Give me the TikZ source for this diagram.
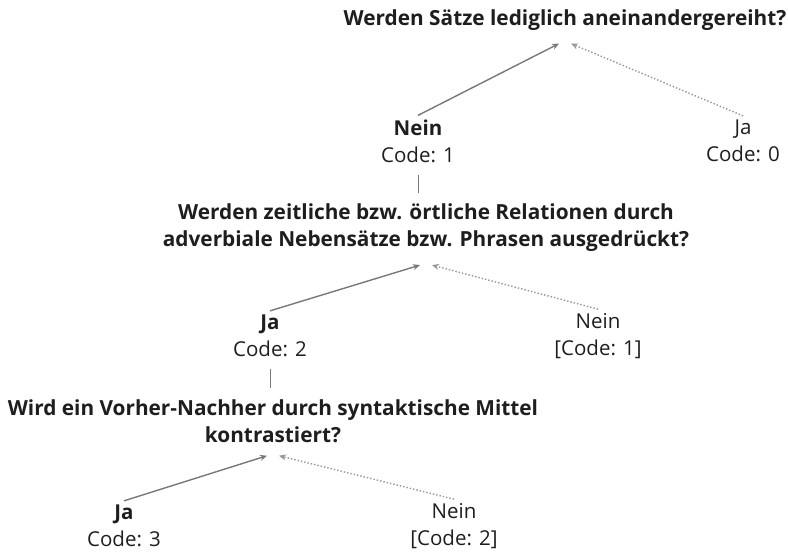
\documentclass[tikz,border=0pt]{standalone}
\usepackage{fontspec}
\setmainfont{Open Sans}
\usepackage{tikz}
\usetikzlibrary{positioning,arrows.meta}
\tikzstyle{chart} = [x = 1pt, y = -1pt]
\definecolor{lineColor}{RGB}{120,120,120}
\definecolor{dotColor}{RGB}{150,150,150}
\definecolor{textColor}{RGB}{30,30,30}
\tikzstyle{question} = [font=\fontsize{20.8}{27}\selectfont\bfseries, align=center, text=textColor, inner sep=2pt]
\tikzstyle{answer} = [font=\fontsize{20.5}{27}\selectfont, align=center, text=textColor, inner sep=4pt]
\tikzstyle{takenLine} = [color=lineColor, line width=1.4pt, -{Stealth[length=7pt,width=6pt]}]
\tikzstyle{otherLine} = [color=dotColor, line width=1.4pt, dotted, -{Stealth[length=7pt,width=6pt]}]
\tikzstyle{stemLine} = [color=lineColor, line width=0.9pt, shorten <=8pt, shorten >=9pt]
\newcommand{\branch}[3]{
  \draw [takenLine] (#2.north) -- ([xshift=-6pt, yshift=-11pt]#1.south);
  \draw [otherLine] (#3.north) -- ([xshift=6pt, yshift=-11pt]#1.south);
}

\begin{document}
\begin{tikzpicture}[chart]
  \useasboundingbox (0,0) rectangle (788,552);

  % first question
  \node [question] (q1) at (565,20) {Werden Sätze lediglich aneinandergereiht?};
  \node [answer] (nein1) at (418,141) {\textbf{Nein}\\Code: 1};
  \node [answer] (ja1) at (743,141) {Ja\\Code: 0};
  \branch{q1}{nein1}{ja1}

  % second question
  \node [question] (q2) at (426,228) {Werden zeitliche bzw. örtliche Relationen durch\\adverbiale Nebensätze bzw. Phrasen ausgedrückt?};
  \draw [stemLine] (nein1.south) -- (nein1.south |- q2.north);
  \node [answer] (ja2) at (270,336) {\textbf{Ja}\\Code: 2};
  \node [answer] (nein2) at (598,336) {Nein\\{[Code: 1]}};
  \branch{q2}{ja2}{nein2}

  % third question
  \node [question] (q3) at (273,421) {Wird ein Vorher-Nachher durch syntaktische Mittel\\kontrastiert?};
  \draw [stemLine] (ja2.south) -- (ja2.south |- q3.north);
  \node [answer] (ja3) at (124,526) {\textbf{Ja}\\Code: 3};
  \node [answer] (nein3) at (454,526) {Nein\\{[Code: 2]}};
  \branch{q3}{ja3}{nein3}
\end{tikzpicture}
\end{document}
